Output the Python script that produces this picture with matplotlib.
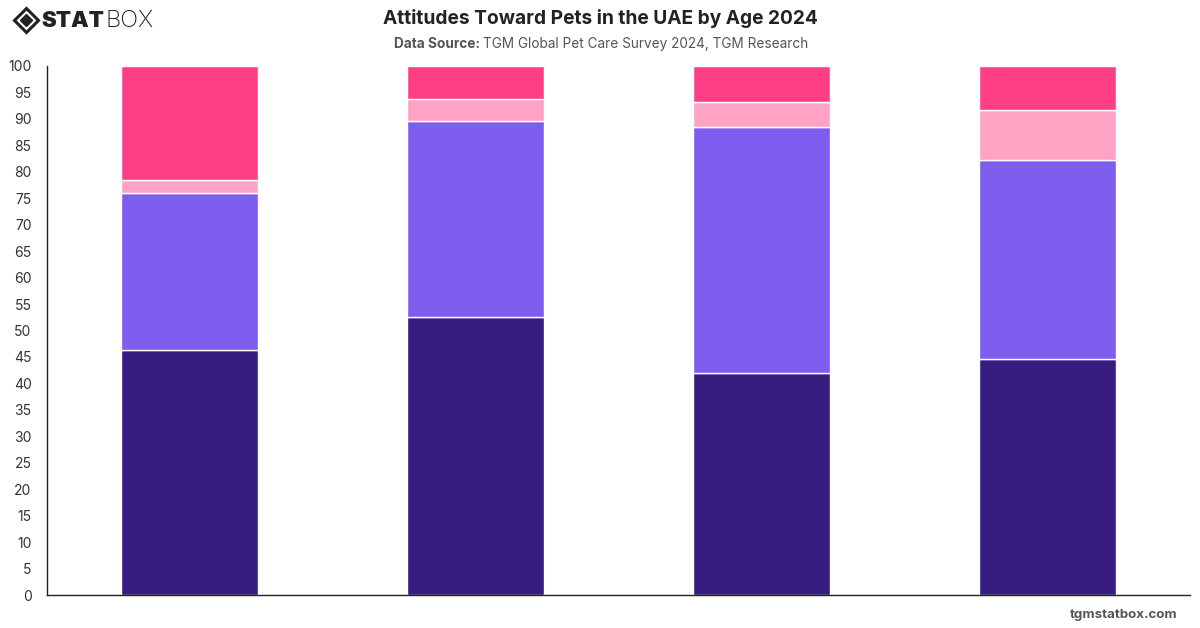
import numpy as np
import matplotlib.pyplot as plt
from matplotlib.lines import Line2D

# age groups (not labelled on the chart itself)
age_groups = ["18-24", "25-34", "35-44", "45+"]

# stacked shares, bottom to top
series_names = ["Response 1", "Response 2", "Response 3", "Response 4"]
resp_1 = [46.3, 52.6, 42.0, 44.6]
resp_2 = [29.7, 36.9, 46.4, 37.6]
resp_3 = [2.4, 4.2, 4.7, 9.4]
resp_4 = [21.6, 6.3, 6.9, 8.4]

colors = ["#371D80", "#7E5DEE", "#FFA3C4", "#FF3F85"]
y_ticks = list(range(0, 101, 5))

plt.rcParams["font.family"] = ["Inter", "DejaVu Sans"]

fig = plt.figure(figsize=(12, 6.28), dpi=100)
ax = fig.add_axes([0.039, 0.0525, 0.953, 0.8425])

x = np.arange(len(age_groups))
bottom = np.zeros(len(age_groups))
for name, vals, col in zip(series_names, [resp_1, resp_2, resp_3, resp_4], colors):
    ax.bar(x, vals, width=0.48, bottom=bottom, color=col, edgecolor="white",
           linewidth=1, label=name)
    bottom += np.array(vals)

ax.set_xlim(-0.5, len(age_groups) - 0.5)
ax.set_ylim(0, 100)
ax.set_yticks(y_ticks)
ax.set_xticks([])
ax.tick_params(axis="y", length=0, pad=11, labelsize=10, labelcolor="#333333")
for s in ["top", "right"]:
    ax.spines[s].set_visible(False)
for s in ["left", "bottom"]:
    ax.spines[s].set_color("#222222")
    ax.spines[s].set_linewidth(1)

# titles
fig.text(0.5, 1 - 18 / 628, "Attitudes Toward Pets in the UAE by Age 2024",
         ha="center", va="center", fontsize=13.8, fontweight="bold", color="#222222")
fig.text(480 / 1200, 1 - 44 / 628, "Data Source:", ha="right", va="center",
         fontsize=9.8, fontweight="bold", color="#555555")
fig.text(483 / 1200, 1 - 44 / 628, "TGM Global Pet Care Survey 2024, TGM Research",
         ha="left", va="center", fontsize=9.8, color="#555555")

# logo: diamond icon + STAT (heavy) BOX (light)
icon_x, icon_y = 26 / 1200, 1 - 20 / 628
fig.add_artist(Line2D([icon_x], [icon_y], transform=fig.transFigure, marker="D",
                      markersize=12.5, markerfacecolor="none", markeredgecolor="#222222",
                      markeredgewidth=2.2))
fig.add_artist(Line2D([icon_x], [icon_y], transform=fig.transFigure, marker="D",
                      markersize=6, color="#222222"))
fig.text(41 / 1200, 1 - 21 / 628, "STAT", ha="left", va="center",
         fontsize=16, fontweight="black", color="#222222")
fig.text(105 / 1200, 1 - 21 / 628, "BOX", ha="left", va="center",
         fontsize=17, fontweight="light", color="#222222")

# footer
fig.text(1178 / 1200, 1 - 615 / 628, "tgmstatbox.com", ha="right", va="center",
         fontsize=9.6, fontweight="bold", color="#555555")

fig.savefig("out.png", dpi=100)
